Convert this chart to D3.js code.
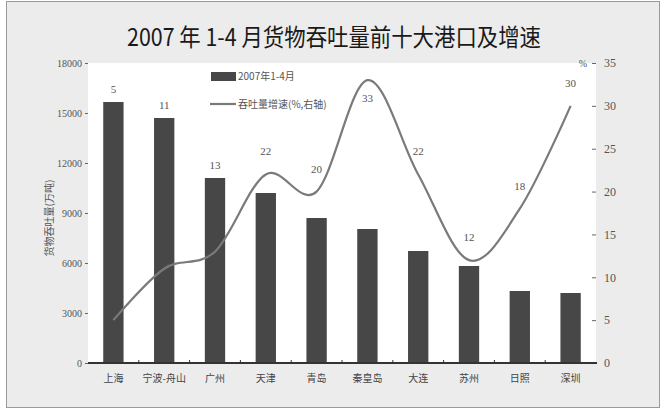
<!DOCTYPE html>
<html><head><meta charset="utf-8">
<script src="https://cdn.jsdelivr.net/npm/d3@7"></script>
<style>body{margin:0;background:#fff}svg{display:block}</style>
</head><body>
<script>
const categories = ["上海","宁波-舟山","广州","天津","青岛","秦皇岛","大连","苏州","日照","深圳"];
const throughput = [15660, 14700, 11100, 10200, 8700, 8040, 6720, 5820, 4320, 4200];
const growth = [5, 11, 13, 22, 20, 33, 22, 12, 18, 30];
const leftTicks = [0, 3000, 6000, 9000, 12000, 15000, 18000];
const rightTicks = [0, 5, 10, 15, 20, 25, 30, 35];
const titleText = "2007 年 1-4 月货物吞吐量前十大港口及增速";
const legendBar = "2007年1-4月";
const legendLine = "吞吐量增速(%,右轴)";
const leftTitle = "货物吞吐量(万吨)";

const W = 661, H = 409;
const L = 88, R = 596, T = 63, B = 363;
const barColor = "#474747", lineColor = "#7a7a7a";
const cjk = "'Noto Sans CJK SC', sans-serif";
const num = "'Liberation Serif', serif";

const svg = d3.select("body").append("svg").attr("width", W).attr("height", H);
svg.append("rect").attr("x", 6.5).attr("y", 1.5).attr("width", 653).attr("height", 406)
  .attr("fill", "#ececec").attr("stroke", "#9a9a9a");
svg.append("rect").attr("x", L).attr("y", T).attr("width", R - L).attr("height", B - T).attr("fill", "#fff");

svg.append("text").attr("x", 334).attr("y", 46).attr("text-anchor", "middle")
  .attr("font-family", cjk).attr("font-size", 24).attr("fill", "#1a1a1a")
  .attr("textLength", 414).attr("lengthAdjust", "spacingAndGlyphs").text(titleText);

const x = d3.scaleBand().domain(categories).range([L, R]).paddingInner(0.6).paddingOuter(0.3);
const yL = d3.scaleLinear().domain([0, 18000]).range([B, T]);
const yR = d3.scaleLinear().domain([0, 35]).range([B, T]);

// bars
svg.append("g").selectAll("rect").data(categories).join("rect")
  .attr("x", d => x(d)).attr("width", x.bandwidth())
  .attr("y", (d, i) => yL(throughput[i])).attr("height", (d, i) => B - yL(throughput[i]))
  .attr("fill", barColor);

// line
const cx = d => x(d) + x.bandwidth() / 2;
const line = d3.line().x(d => cx(d)).y((d, i) => yR(growth[i])).curve(d3.curveCardinal.tension(0));
svg.append("path").datum(categories).attr("d", line).attr("fill", "none")
  .attr("stroke", lineColor).attr("stroke-width", 2.2);

// data labels for line
svg.append("g").selectAll("text").data(categories).join("text")
  .attr("x", d => cx(d))
  .attr("y", (d, i) => {
    const py = yR(growth[i]), by = yL(throughput[i]);
    let ly = Math.min(by - 9, py - 19);
    if (ly < T + 10) ly = py + 22;
    return ly;
  })
  .attr("text-anchor", "middle").attr("font-family", num).attr("font-size", 11).attr("fill", "#555")
  .text((d, i) => d3.format(".0f")(growth[i]));

// left axis
const gl = svg.append("g").attr("transform", `translate(${L},0)`)
  .call(d3.axisLeft(yL).tickValues(leftTicks).tickSizeInner(3).tickSizeOuter(0).tickPadding(3).tickFormat(d3.format("d")));
gl.select(".domain").remove();
gl.selectAll("line").attr("stroke", "#666");
gl.selectAll("text").attr("font-family", num).attr("font-size", 10).attr("fill", "#555");

// right axis
const gr = svg.append("g").attr("transform", `translate(${R},0)`)
  .call(d3.axisRight(yR).tickValues(rightTicks).tickSizeInner(-4).tickSizeOuter(0).tickPadding(8));
gr.select(".domain").remove();
gr.selectAll("line").attr("stroke", "#666");
gr.selectAll("text").attr("font-family", num).attr("font-size", 12).attr("fill", "#555");
svg.append("text").attr("x", 583).attr("y", 67).attr("text-anchor", "middle")
  .attr("font-family", num).attr("font-size", 10).attr("fill", "#555").text("%");

// bottom axis
const gb = svg.append("g").attr("transform", `translate(0,${B})`)
  .call(d3.axisBottom(x).tickSize(0).tickPadding(12));
gb.select(".domain").attr("stroke", "#333").attr("stroke-width", 2).attr("d", `M${L},0H${R + 1}`);
gb.selectAll("text").attr("font-family", cjk).attr("font-size", 10).attr("fill", "#444");
svg.append("g").selectAll("line").data(categories.slice(1)).join("line")
  .attr("x1", d => x(d) - x.step() * x.paddingInner() / 2).attr("x2", d => x(d) - x.step() * x.paddingInner() / 2)
  .attr("y1", B).attr("y2", B - 3).attr("stroke", "#333");

// left title
svg.append("text").attr("transform", "translate(53,218) rotate(-90)").attr("text-anchor", "middle")
  .attr("font-family", cjk).attr("font-size", 10).attr("fill", "#555").text(leftTitle);

// legend
svg.append("rect").attr("x", 211).attr("y", 72).attr("width", 25).attr("height", 9).attr("fill", barColor);
svg.append("text").attr("x", 238).attr("y", 80).attr("font-family", cjk).attr("font-size", 10).attr("fill", "#555").text(legendBar);
svg.append("line").attr("x1", 210).attr("x2", 236).attr("y1", 104).attr("y2", 104).attr("stroke", lineColor).attr("stroke-width", 2.2);
svg.append("text").attr("x", 238).attr("y", 108).attr("font-family", cjk).attr("font-size", 10).attr("fill", "#555").text(legendLine);
</script>
</body></html>
